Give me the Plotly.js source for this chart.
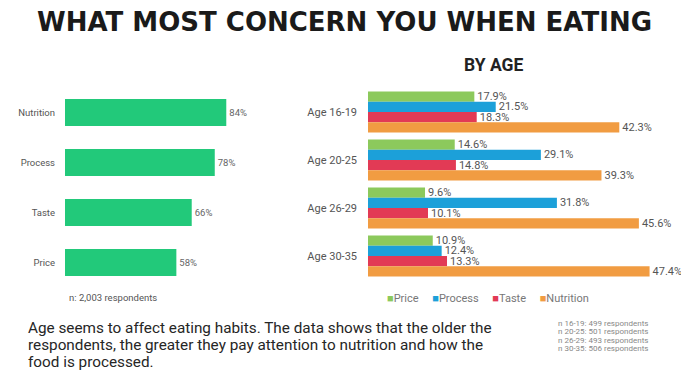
<!DOCTYPE html>
<html><head><meta charset="utf-8">
<script src="https://cdn.plot.ly/plotly-3.0.1.min.js"></script>
<style>html,body{margin:0;padding:0;background:#fff}#chart{width:681px;height:372px}</style>
</head><body><div id="chart"></div>
<script>
// Overall concerns (left chart)
const overallCats = ['Price', 'Taste', 'Process', 'Nutrition'];
const overallVals = [58, 66, 78, 84];

// By age (right chart)
const ageGroups = ['Age 16-19', 'Age 20-25', 'Age 26-29', 'Age 30-35'];
const seriesNames = ['Price', 'Process', 'Taste', 'Nutrition'];
const priceVals = [17.9, 14.6, 9.6, 10.9];
const processVals = [21.5, 29.1, 31.8, 12.4];
const tasteVals = [18.3, 14.8, 10.1, 13.3];
const nutritionVals = [42.3, 39.3, 45.6, 47.4];

const respondentNotes = ['n 16-19: 499 respondents', 'n 20-25: 501 respondents', 'n 26-29: 493 respondents', 'n 30-35: 506 respondents'];

const W = 681, H = 372;
const fx = p => p / W;
const fy = p => 1 - p / H;

const txtFont = {family: 'Roboto, sans-serif', size: 11, color: '#555'};
const colors = ['#8cc95c', '#1ca0d9', '#e23a55', '#f19c42'];

const traces = [
  {type: 'bar', orientation: 'h', y: overallCats, x: overallVals, xaxis: 'x', yaxis: 'y',
   marker: {color: '#22c97a'}, width: 0.54, showlegend: false,
   text: overallVals.map(v => v + '%'), textposition: 'outside', cliponaxis: false,
   constraintext: 'none', textfont: {family: 'Roboto, sans-serif', size: 9.5, color: '#666'},
   hoverinfo: 'skip'}
];
[priceVals, processVals, tasteVals, nutritionVals].forEach((vals, i) => {
  traces.push({type: 'bar', orientation: 'h', name: seriesNames[i], y: ageGroups, x: vals,
    xaxis: 'x2', yaxis: 'y2', marker: {color: colors[i]}, showlegend: false,
    text: vals.map(v => v.toFixed(1) + '%'), textposition: 'outside', cliponaxis: false,
    constraintext: 'none', textfont: txtFont, hoverinfo: 'skip'});
});

const legendText = seriesNames.map((n, i) =>
  '<span style="color:' + colors[i] + '">■</span>' + n).join('&nbsp;&nbsp;&nbsp;&nbsp;&nbsp;');

const annotations = [
  {text: '<b>WHAT MOST CONCERN YOU WHEN EATING</b>', x: fx(344), y: fy(22), xref: 'paper', yref: 'paper',
   showarrow: false, xanchor: 'center', yanchor: 'middle',
   font: {family: 'DejaVu Sans, sans-serif', size: 26, color: '#1a1a1a'}},
  {text: '<b>BY AGE</b>', x: fx(493), y: fy(65), xref: 'paper', yref: 'paper',
   showarrow: false, xanchor: 'center', yanchor: 'middle',
   font: {family: 'Roboto, sans-serif', size: 17.5, color: '#222'}},
  {text: 'n: 2,003 respondents', x: fx(67), y: fy(297), xref: 'paper', yref: 'paper',
   showarrow: false, xanchor: 'left', yanchor: 'middle',
   font: {family: 'Roboto, sans-serif', size: 9.5, color: '#555'}},
  {text: legendText, x: fx(488), y: fy(298), xref: 'paper', yref: 'paper',
   showarrow: false, xanchor: 'center', yanchor: 'middle',
   font: {family: 'Roboto, sans-serif', size: 11, color: '#777'}}
];
const para = ['Age seems to affect eating habits. The data shows that the older the',
              'respondents, the greater they pay attention to nutrition and how the',
              'food is processed.'];
para.forEach((t, i) => annotations.push({text: t, x: fx(26), y: fy(328 + i * 17), xref: 'paper', yref: 'paper',
  showarrow: false, xanchor: 'left', yanchor: 'middle',
  font: {family: 'Roboto, sans-serif', size: 15.3, color: '#262626'}}));
respondentNotes.forEach((t, i) => annotations.push({text: t, x: fx(556), y: fy(323 + i * 8.5), xref: 'paper', yref: 'paper',
  showarrow: false, xanchor: 'left', yanchor: 'middle',
  font: {family: 'Roboto, sans-serif', size: 8, color: '#888'}}));

const layout = {
  width: W, height: H,
  margin: {l: 0, r: 0, t: 0, b: 0},
  paper_bgcolor: '#fff', plot_bgcolor: 'rgba(0,0,0,0)',
  barmode: 'group', bargap: 0.15, bargroupgap: 0,
  showlegend: false,
  xaxis: {domain: [fx(65), fx(257)], range: [0, 100], visible: false, fixedrange: true},
  yaxis: {domain: [fy(287.5), fy(87.5)], range: [-0.5, 3.5], type: 'category',
    showgrid: false, zeroline: false, showline: false, ticks: '', anchor: 'x',
    ticklabelstandoff: 9, tickfont: {family: 'Roboto, sans-serif', size: 9.5, color: '#555'}},
  xaxis2: {domain: [fx(368), fx(668)], range: [0, 50.5], visible: false, fixedrange: true, anchor: 'y2'},
  yaxis2: {domain: [fy(280), fy(88)], range: [3.5, -0.5], type: 'category',
    showgrid: false, zeroline: false, showline: false, ticks: '', anchor: 'x2',
    ticklabelstandoff: 10, tickfont: {family: 'Roboto, sans-serif', size: 11, color: '#555'}},
  annotations: annotations
};

Plotly.newPlot('chart', traces, layout, {displayModeBar: false, staticPlot: true});
</script></body></html>
